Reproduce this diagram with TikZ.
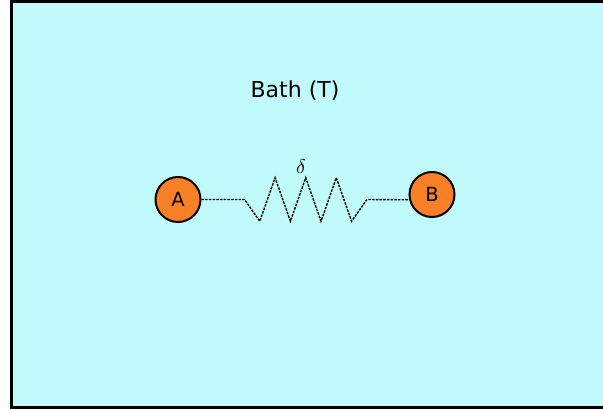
\documentclass[tikz,border=0pt]{standalone}
\usepackage{fontspec}
\setsansfont{DejaVu Sans}
\usetikzlibrary{calc}
\definecolor{cBath}{RGB}{192,250,250}
\definecolor{cBall}{RGB}{250,128,40}
\tikzset{
	bath/.style   ={draw=black, line width=3pt, fill=cBath},
	ball/.style   ={circle, draw=black, line width=2pt, fill=cBall, minimum size=45pt, inner sep=0pt, font=\sffamily\fontsize{19.5}{22}\selectfont},
	label/.style  ={font=\sffamily\fontsize{22}{26}\selectfont},
	spring/.style ={line width=1.4pt, dash pattern=on 2.5pt off 1.2pt},
}
\begin{document}
\begin{tikzpicture}[x=1pt, y=-1pt]
	\useasboundingbox (0,0) rectangle (603,412);
	\clip (0,0) rectangle (603,412);
	\path[bath] (11.7,1.3) rectangle (615,407.5);
	\node[label] (bathlbl) at (295,91) {Bath (T)};
	\node[ball] (A) at (178,199.5) {A};
	\node[ball] (B) at (432,194.5) {B};
	% spring between the two particles
	\draw[spring] (A.east) -- ++(43,0) coordinate (z0) -- ++(15.3,21.7)
		\foreach \k in {1,...,3} { -- ++(15.3,-43.4) -- ++(15.3,43.4) }
		-- ++(15.3,-21.7) coordinate (z1) -- (B.193);
	\node[scale=2, inner sep=0pt] (dlt) at (301,167) {$\delta$};
\end{tikzpicture}
\end{document}
